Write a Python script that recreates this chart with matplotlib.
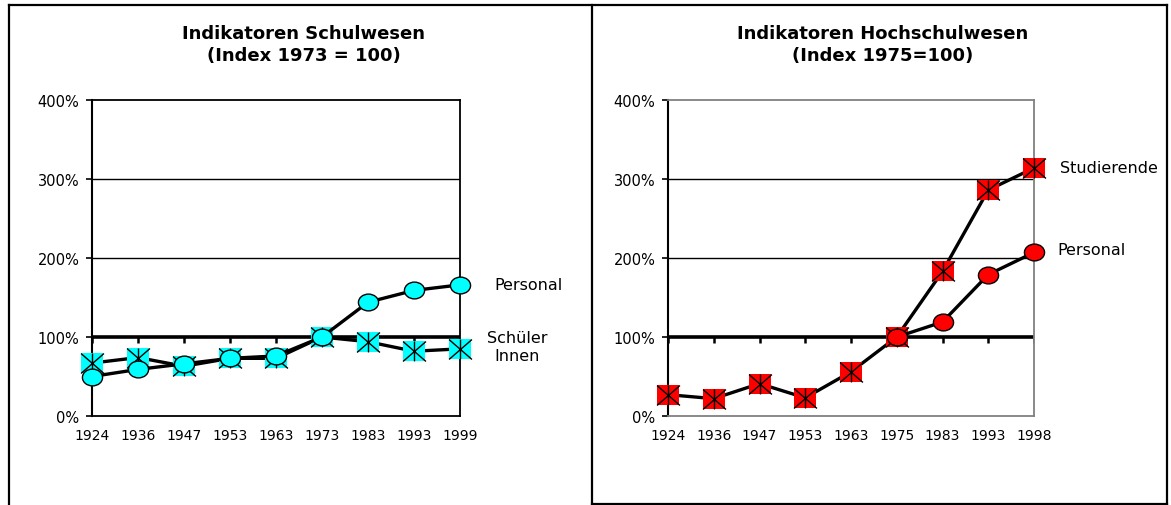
import numpy as np
import matplotlib
matplotlib.use("Agg")
import matplotlib.pyplot as plt
from matplotlib.lines import Line2D
from matplotlib.path import Path
from matplotlib.transforms import Affine2D

# %% data (index in %)

years_schule = ['1924', '1936', '1947', '1953', '1963', '1973', '1983', '1993', '1999']
schueler = [67, 74, 63, 73, 73, 100, 94, 82, 85]
personal_schule = [50, 59, 66, 73, 76, 100, 144, 159, 166]

years_hoch = ['1924', '1936', '1947', '1953', '1963', '1975', '1983', '1993', '1998']
studierende = [27, 22, 41, 23, 56, 100, 183, 286, 314]
personal_hoch = [np.nan, np.nan, np.nan, np.nan, np.nan, 100, 119, 179, 207]

y_ticks = [0, 100, 200, 300, 400]
y_labels = ['0%', '100%', '200%', '300%', '400%']

# %% markers : Excel-like ellipse, wide square, X with a vertical bar

ellipse = Path.unit_circle().transformed(Affine2D().scale(1.2, 1.0))
square = Path([(-1.15, -1), (1.15, -1), (1.15, 1), (-1.15, 1), (-1.15, -1)],
              [Path.MOVETO, Path.LINETO, Path.LINETO, Path.LINETO, Path.CLOSEPOLY])
star = Path([(-1.15, -1), (1.15, 1), (-1.15, 1), (1.15, -1), (0, -1), (0, 1)],
            [Path.MOVETO, Path.LINETO, Path.MOVETO, Path.LINETO, Path.MOVETO, Path.LINETO])

plt.rcParams['font.family'] = ['DejaVu Sans']

fig = plt.figure(figsize=(11.71, 5.06), dpi=100)

W, H = 1171, 506
SQ = 16.5   # square / star size
CI = 14.5   # ellipse size


def px_axes(x0, x1, ytop, ybot):
    return fig.add_axes([x0 / W, 1 - ybot / H, (x1 - x0) / W, (ybot - ytop) / H])


def style_axes(ax, cats, frame_color):
    n = len(cats)
    xpos = np.arange(n)
    ax.set_xlim(0, n - 1)
    ax.set_ylim(0, 400)
    ax.set_xticks(xpos)
    ax.set_xticklabels(cats, fontsize=10)
    ax.set_yticks(y_ticks)
    ax.set_yticklabels(y_labels, fontsize=10.5)
    ax.tick_params(axis='x', length=0, pad=9)
    ax.tick_params(axis='y', length=4, width=1.2, direction='out', pad=5)
    for s in ['top', 'right', 'bottom']:
        ax.spines[s].set_color(frame_color)
        ax.spines[s].set_linewidth(1.3)
    ax.spines['left'].set_color('black')
    ax.spines['left'].set_linewidth(1.5)
    # grid lines
    for v in y_ticks[2:4]:
        ax.axhline(v, color='black', linewidth=1.0, zorder=1)
    # category axis crossing at 100%
    ax.axhline(100, color='black', linewidth=2.6, zorder=2)
    ax.vlines(xpos, 93, 100, color='black', linewidth=1.8, zorder=2)
    return xpos


# %% left : Schulwesen

ax1 = px_axes(92, 460, 101, 417)
x1 = style_axes(ax1, years_schule, 'black')

ax1.plot(x1, schueler, color='black', linewidth=2.4, zorder=3, clip_on=False)
ax1.plot(x1, schueler, linestyle='none', marker=square, markersize=SQ,
         markerfacecolor='#00ffff', markeredgewidth=0, zorder=4, clip_on=False)
ax1.plot(x1, schueler, linestyle='none', marker=star, markersize=SQ,
         markerfacecolor='none', markeredgecolor='black', markeredgewidth=1.0,
         zorder=5, clip_on=False)
ax1.plot(x1, personal_schule, color='black', linewidth=2.4, zorder=6, clip_on=False)
ax1.plot(x1, personal_schule, linestyle='none', marker=ellipse, markersize=CI,
         markerfacecolor='#00ffff', markeredgecolor='black', markeredgewidth=1.0,
         zorder=7, clip_on=False)

ax1.annotate('Personal', xy=(x1[-1], personal_schule[-1]), xytext=(24.5, 0),
             textcoords='offset points', ha='left', va='center', fontsize=11.5)
ax1.annotate('Schüler\nInnen', xy=(x1[-1], schueler[-1]), xytext=(41, 2),
             textcoords='offset points', ha='center', va='center', fontsize=11.5,
             linespacing=1.25)

# %% right : Hochschulwesen

ax2 = px_axes(668, 1034, 101, 417)
x2 = style_axes(ax2, years_hoch, '#808080')

ax2.plot(x2, studierende, color='black', linewidth=2.4, zorder=3, clip_on=False)
ax2.plot(x2, studierende, linestyle='none', marker=square, markersize=SQ,
         markerfacecolor='#ff0000', markeredgewidth=0, zorder=4, clip_on=False)
ax2.plot(x2, studierende, linestyle='none', marker=star, markersize=SQ,
         markerfacecolor='none', markeredgecolor='black', markeredgewidth=1.0,
         zorder=5, clip_on=False)
ax2.plot(x2, personal_hoch, color='black', linewidth=2.4, zorder=6, clip_on=False)
ax2.plot(x2, personal_hoch, linestyle='none', marker=ellipse, markersize=CI,
         markerfacecolor='#ff0000', markeredgecolor='black', markeredgewidth=1.0,
         zorder=7, clip_on=False)

ax2.annotate('Studierende', xy=(x2[-1], studierende[-1]), xytext=(18.5, 0),
             textcoords='offset points', ha='left', va='center', fontsize=11.5)
ax2.annotate('Personal', xy=(x2[-1], personal_hoch[-1]), xytext=(16.5, 2),
             textcoords='offset points', ha='left', va='center', fontsize=11.5)

# %% titles

fig.text(304 / W, 1 - 45 / H, 'Indikatoren Schulwesen\n(Index 1973 = 100)',
         ha='center', va='center', fontsize=13, fontweight='bold', linespacing=1.35)
fig.text(883 / W, 1 - 45 / H, 'Indikatoren Hochschulwesen\n(Index 1975=100)',
         ha='center', va='center', fontsize=13, fontweight='bold', linespacing=1.35)

# %% panel frames

def fline(xs, ys, lw=1.6):
    fig.add_artist(Line2D([x / W for x in xs], [1 - y / H for y in ys],
                          color='black', linewidth=lw))


fline([9, 1167], [6, 6])
fline([9, 9], [6, 506])
fline([592, 592], [6, 505])
fline([592, 1167], [505, 505])
fline([1167, 1167], [6, 505])

fig.savefig('out.png', dpi=100)
